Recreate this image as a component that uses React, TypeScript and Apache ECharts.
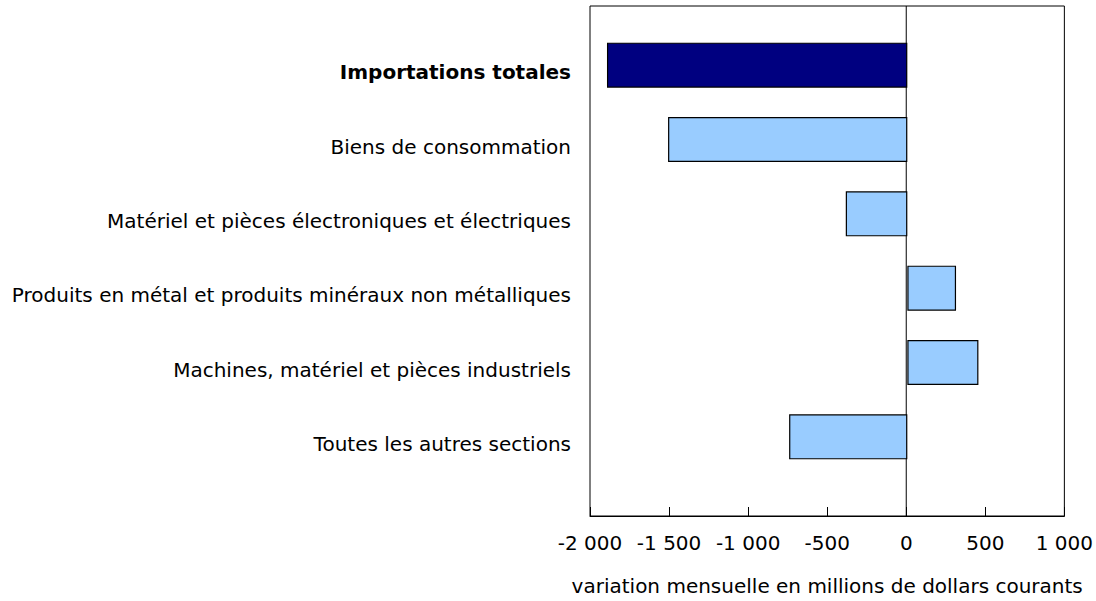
import React, { useEffect, useRef } from "react";
import * as echarts from "echarts";

const categories = [
  "Importations totales",
  "Biens de consommation",
  "Matériel et pièces électroniques et électriques",
  "Produits en métal et produits minéraux non métalliques",
  "Machines, matériel et pièces industriels",
  "Toutes les autres sections",
];
const values = [-1893, -1508, -388, 307, 448, -745];
const barColors = ["#000080", "#99CCFF", "#99CCFF", "#99CCFF", "#99CCFF", "#99CCFF"];
const xMin = -2000;
const xMax = 1000;
const xInterval = 500;
const axisTitle = "variation mensuelle en millions de dollars courants";

const FONT = "DejaVu Sans";

function fmt(v: number): string {
  const s = Math.abs(v).toString().replace(/\B(?=(\d{3})+(?!\d))/g, " ");
  return (v < 0 ? "-" : "") + s;
}

export default function App() {
  const ref = useRef<HTMLDivElement>(null);
  useEffect(() => {
    document.body.style.margin = "0";
    if (!ref.current) return;
    const chart = echarts.init(ref.current, null, { renderer: "svg" });
    chart.setOption({
      animation: false,
      backgroundColor: "#ffffff",
      textStyle: { fontFamily: FONT },
      grid: [
        { left: 590, top: 28, width: 476, height: 446, containLabel: false },
        {
          left: 590,
          top: 6,
          width: 476,
          height: 520,
          show: true,
          borderColor: "#000000",
          borderWidth: 1,
          backgroundColor: "transparent",
        },
      ],
      xAxis: [
        { type: "value", gridIndex: 0, min: xMin, max: xMax, interval: xInterval, show: false },
        {
          type: "value",
          gridIndex: 1,
          min: xMin,
          max: xMax,
          interval: xInterval,
          axisLine: { show: true, lineStyle: { color: "#000000", width: 1 } },
          axisTick: { show: true, inside: true, length: 9, lineStyle: { color: "#000000", width: 1 } },
          splitLine: { show: false },
          axisLabel: {
            formatter: (v: number) => fmt(v),
            color: "#000000",
            fontSize: 20,
            fontFamily: FONT,
            margin: 17,
          },
          name: axisTitle,
          nameLocation: "middle",
          nameGap: 60,
          nameTextStyle: { color: "#000000", fontSize: 20, fontFamily: FONT },
        },
      ],
      yAxis: [
        {
          type: "category",
          gridIndex: 0,
          inverse: true,
          data: categories,
          axisLine: { show: false },
          axisTick: { show: false },
          splitLine: { show: false },
          axisLabel: {
            color: "#000000",
            fontSize: 20,
            fontFamily: FONT,
            margin: 19,
            padding: [14, 0, 0, 0],
            formatter: (v: string, i: number) => (i === 0 ? "{b|" + v + "}" : v),
            rich: {
              b: { fontWeight: "bold", fontSize: 20, fontFamily: FONT, color: "#000000" },
            },
          },
        },
        { type: "value", gridIndex: 1, min: 0, max: 1, show: false },
      ],
      series: [
        {
          type: "bar",
          xAxisIndex: 0,
          yAxisIndex: 0,
          barWidth: 45,
          data: values.map((v, i) => ({
            value: v,
            itemStyle: { color: barColors[i], borderColor: "#000000", borderWidth: 1.2 },
          })),
          z: 3,
        },
        {
          type: "line",
          xAxisIndex: 1,
          yAxisIndex: 1,
          data: [
            [0, 0],
            [0, 1],
          ],
          symbol: "none",
          lineStyle: { color: "#000000", width: 1 },
          z: 2,
        },
      ],
    });
    return () => chart.dispose();
  }, []);
  return <div ref={ref} style={{ width: 1096, height: 601 }} />;
}
